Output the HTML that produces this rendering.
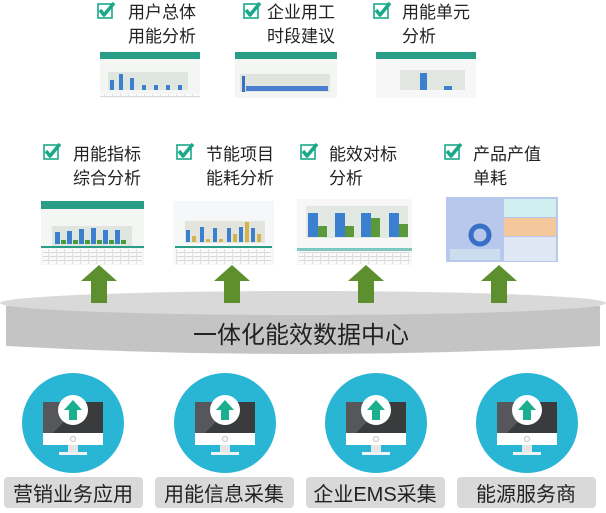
<!DOCTYPE html>
<html><head><meta charset="utf-8"><style>
html,body{margin:0;padding:0;background:#fff;}
body{width:606px;height:508px;overflow:hidden;font-family:"Liberation Sans","Noto Sans CJK SC",sans-serif;}
</style></head><body>
<svg width="606" height="508" viewBox="0 0 606 508" xmlns="http://www.w3.org/2000/svg" font-family="Liberation Sans, Noto Sans CJK SC, sans-serif">
<defs>
<g id="chk">
<rect x="1" y="3" width="14" height="14" fill="none" stroke="#1aa88a" stroke-width="1.6"/>
<path d="M3 9 L7 14 L17 2" fill="none" stroke="#1aa88a" stroke-width="3.5" stroke-linejoin="round"/>
</g>
<g id="garrow">
<path d="M-18 16 L0 0 L18 16 L8 16 L8 38 L-8 38 L-8 16 Z" fill="#5e8f2e"/>
</g>
<g id="mon">
<ellipse cx="0" cy="0" rx="51" ry="50" fill="#29b5d4"/>
<rect x="-30" y="-21" width="60" height="31" fill="#3a3b3d"/>
<path d="M-30 -21 L10 -21 L-20 10 L-30 10 Z" fill="#55575a"/>
<rect x="-30" y="10" width="60" height="12" fill="#fff"/>
<circle cx="0" cy="16" r="2.5" fill="none" stroke="#ccc" stroke-width="1.2"/>
<rect x="-5" y="22" width="10" height="7" fill="#e6e6e6"/>
<rect x="-14" y="29" width="28" height="3" fill="#f2f2f2"/>
<ellipse cx="0" cy="-13" rx="15" ry="15" fill="#fff"/>
<path d="M-9 -13 L0 -23 L9 -13 L4 -13 L4 -3 L-4 -3 L-4 -13 Z" fill="#1aaf8e"/>
</g>
<pattern id="rows" width="8" height="4" patternUnits="userSpaceOnUse">
<rect width="8" height="4" fill="#fafafa"/><rect width="8" height="1" fill="#d8d8d8"/><rect width="1" height="4" fill="#e0e0e0"/>
</pattern>
</defs>

<g font-size="17" fill="#222">
<use href="#chk" x="97" y="1"/>
<text x="128" y="18">用户总体</text><text x="128" y="42">用能分析</text>
<use href="#chk" x="243" y="1"/>
<text x="267" y="18">企业用工</text><text x="267" y="42">时段建议</text>
<use href="#chk" x="373" y="1"/>
<text x="402" y="18">用能单元</text><text x="402" y="42">分析</text>
</g>

<g>
<rect x="100" y="52" width="100" height="46" fill="#f4f6f4"/>
<rect x="100" y="52" width="100" height="7" fill="#2a9d86"/>
<rect x="108" y="72" width="80" height="18" fill="#dfe6e0"/>
<rect x="110" y="80" width="4" height="10" fill="#3a7fd0"/><rect x="119" y="74" width="4" height="16" fill="#3a7fd0"/><rect x="130" y="78" width="4" height="12" fill="#3a7fd0"/><rect x="142" y="85" width="4" height="5" fill="#3a7fd0"/><rect x="154" y="85" width="4" height="5" fill="#3a7fd0"/><rect x="166" y="85" width="4" height="5" fill="#3a7fd0"/><rect x="178" y="85" width="4" height="5" fill="#3a7fd0"/>
<rect x="100" y="94" width="100" height="4" fill="url(#rows)"/>
<rect x="235" y="52" width="102" height="46" fill="#f4f6f4"/>
<rect x="235" y="52" width="102" height="7" fill="#2a9d86"/>
<rect x="240" y="74" width="90" height="18" fill="#dfe4dc"/>
<rect x="242" y="76" width="3" height="16" fill="#3a6fc8"/>
<rect x="246" y="86" width="82" height="5" fill="#4a7fd0"/>
<rect x="376" y="52" width="100" height="46" fill="#f6f7f6"/>
<rect x="376" y="52" width="100" height="7" fill="#2a9d86"/>
<rect x="400" y="70" width="65" height="20" fill="#e2e6e0"/>
<rect x="420" y="73" width="7" height="17" fill="#3a7fd0"/><rect x="444" y="86" width="8" height="4" fill="#3a7fd0"/>
</g>

<g font-size="17" fill="#222">
<use href="#chk" x="43" y="142"/>
<text x="73" y="160">用能指标</text><text x="73" y="184">综合分析</text>
<use href="#chk" x="176" y="142"/>
<text x="206" y="160">节能项目</text><text x="206" y="184">能耗分析</text>
<use href="#chk" x="300" y="142"/>
<text x="329" y="160">能效对标</text><text x="329" y="184">分析</text>
<use href="#chk" x="444" y="142"/>
<text x="473" y="160">产品产值</text><text x="473" y="184">单耗</text>
</g>

<g>
<rect x="41" y="201" width="103" height="64" fill="#f4f6f4"/>
<rect x="41" y="201" width="103" height="8" fill="#2a9d86"/>
<rect x="52" y="226" width="80" height="20" fill="#dfe6e0"/>
<g fill="#3a7fd0"><rect x="55" y="232" width="5" height="12"/><rect x="67" y="231" width="5" height="13"/><rect x="79" y="229" width="5" height="15"/><rect x="91" y="228" width="5" height="16"/><rect x="103" y="230" width="5" height="14"/><rect x="115" y="230" width="5" height="14"/></g>
<g fill="#4a9a3a"><rect x="61" y="240" width="5" height="4"/><rect x="73" y="240" width="5" height="4"/><rect x="85" y="240" width="5" height="4"/><rect x="97" y="240" width="5" height="4"/><rect x="109" y="240" width="5" height="4"/><rect x="121" y="240" width="5" height="4"/></g>
<rect x="41" y="246" width="103" height="2" fill="#2a9d86"/>
<rect x="43" y="249" width="99" height="15" fill="url(#rows)"/>
<rect x="173" y="201" width="101" height="64" fill="#f6f7f8"/>
<rect x="185" y="221" width="80" height="22" fill="#e3e5dc"/>
<g fill="#3a7fd0"><rect x="186" y="230" width="4" height="12"/><rect x="200" y="227" width="4" height="15"/><rect x="213" y="228" width="4" height="14"/><rect x="227" y="228" width="4" height="14"/><rect x="239" y="227" width="4" height="15"/><rect x="251" y="228" width="4" height="14"/></g>
<g fill="#d4b24c"><rect x="192" y="236" width="4" height="6"/><rect x="206" y="239" width="4" height="3"/><rect x="219" y="239" width="4" height="3"/><rect x="233" y="234" width="4" height="8"/><rect x="245" y="222" width="4" height="20"/><rect x="257" y="234" width="4" height="8"/></g>
<rect x="175" y="246" width="97" height="2" fill="#2a9d86"/>
<rect x="176" y="249" width="95" height="15" fill="url(#rows)"/>
<rect x="297" y="199" width="115" height="66" fill="#f6f7f6"/>
<rect x="306" y="206" width="102" height="32" fill="#e2e8e2"/>
<g fill="#3a7fd0"><rect x="308" y="213" width="10" height="24"/><rect x="335" y="213" width="10" height="24"/><rect x="361" y="213" width="10" height="24"/><rect x="389" y="213" width="10" height="24"/></g>
<g fill="#5a9a3a"><rect x="318" y="226" width="9" height="11"/><rect x="345" y="226" width="9" height="11"/><rect x="371" y="218" width="9" height="19"/><rect x="399" y="224" width="9" height="13"/></g>
<rect x="297" y="248" width="115" height="3" fill="#7fc9c0"/>
<rect x="299" y="252" width="111" height="12" fill="url(#rows)"/>
<rect x="446" y="197" width="112" height="65" fill="#b8c8ec"/>
<rect x="504" y="199" width="52" height="18" fill="#cfeff0"/>
<rect x="504" y="218" width="52" height="18" fill="#f4c89a"/>
<rect x="504" y="237" width="52" height="24" fill="#dfe6f4"/>
<circle cx="480" cy="235" r="9" fill="none" stroke="#3a6fc8" stroke-width="5"/>
<rect x="450" y="249" width="50" height="11" fill="#cde"/>
</g>

<path d="M6 306 L600 306 L600 346 Q303 362 6 346 Z" fill="#c4c4c4"/>
<ellipse cx="303" cy="303" rx="303" ry="12" fill="#d9d9d9"/>
<text x="301" y="343" font-size="24" fill="#222" text-anchor="middle">一体化能效数据中心</text>

<use href="#garrow" x="99" y="265"/>
<use href="#garrow" x="232" y="265"/>
<use href="#garrow" x="366" y="265"/>
<use href="#garrow" x="499" y="265"/>

<use href="#mon" x="73" y="423"/>
<use href="#mon" x="225" y="423"/>
<use href="#mon" x="376" y="423"/>
<use href="#mon" x="527" y="423"/>

<g fill="#d9d9d9">
<rect x="4" y="477" width="139" height="31" rx="4"/>
<rect x="155" y="477" width="139" height="31" rx="4"/>
<rect x="306" y="477" width="139" height="31" rx="4"/>
<rect x="457" y="477" width="139" height="31" rx="4"/>
</g>
<g font-size="20" fill="#222" text-anchor="middle">
<text x="73" y="501">营销业务应用</text>
<text x="224" y="501">用能信息采集</text>
<text x="375" y="501">企业EMS采集</text>
<text x="526" y="501">能源服务商</text>
</g>
</svg>
</body></html>
